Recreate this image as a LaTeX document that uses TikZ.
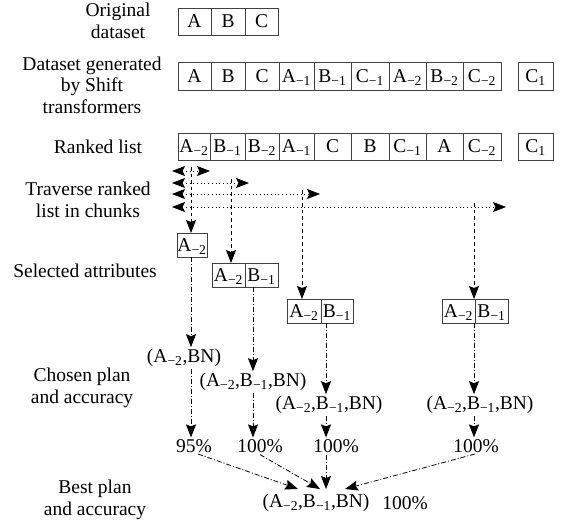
\documentclass[tikz,border=0pt]{standalone}
\usepackage{fontspec}
\setmainfont{Liberation Serif}
\usetikzlibrary{arrows.meta,calc}
\newcommand{\sbt}[1]{\textsubscript{#1}}
\newcommand{\cellbox}[6]{%
  \pgfmathsetmacro{\cbw}{#3-#2}\pgfmathsetmacro{\cbx}{(#2+#3)/2}%
  \pgfmathsetmacro{\cbh}{#5-#4}\pgfmathsetmacro{\cby}{(#4+#5)/2}%
  \node[cell, minimum width=\cbw pt, minimum height=\cbh pt] (#1) at (\cbx,\cby) {#6};}
\begin{document}
\begin{tikzpicture}[x=1pt,y=-1pt,
  every node/.style={font=\fontsize{19.5}{21.5}\selectfont, inner sep=0pt, outer sep=0pt},
  lbl/.style={align=center},
  txt/.style={outer sep=2pt},
  cell/.style={draw=black!75, line width=0.8pt, text height=15pt, text depth=3pt},
  trav/.style={line width=0.8pt, dash pattern=on 1pt off 2.7pt, {Stealth[length=13pt,width=10pt,inset=2.5pt]}-{Stealth[length=13pt,width=10pt,inset=2.5pt]}},
  dsh/.style={line width=0.8pt, dash pattern=on 3.5pt off 3pt, -{Stealth[length=13pt,width=10pt,inset=2pt]}},
  dd/.style={line width=0.8pt, dash pattern=on 5pt off 2pt on 1pt off 2pt, -{Stealth[length=13pt,width=10pt,inset=2pt]}},
]
\useasboundingbox (0,0) rectangle (561,523);

% left labels
\node[lbl] (Lorig) at (118,21) {Original\\dataset};
\node[lbl] (Lgen) at (92,85) {Dataset generated\\by Shift\\transformers};
\node[lbl] (Lrank) at (98,147) {Ranked list};
\node[lbl] (Ltrav) at (88,200) {Traverse ranked\\list in chunks};
\node[lbl] (Lsel) at (85,271) {Selected attributes};
\node[lbl] (Lchos) at (82,388) {Chosen plan\\and accuracy};
\node[lbl] (Lbest) at (95,500) {Best plan\\and accuracy};

% original dataset
\cellbox{o1}{178}{211}{8}{35}{A}
\cellbox{o2}{211}{245}{8}{35}{B}
\cellbox{o3}{245}{278}{8}{35}{C}

% generated dataset
\cellbox{g1}{178}{211}{62}{90}{A}
\cellbox{g2}{211}{245}{62}{90}{B}
\cellbox{g3}{245}{279}{62}{90}{C}
\cellbox{g4}{279}{314}{62}{90}{A\sbt{−1}}
\cellbox{g5}{314}{351}{62}{90}{B\sbt{−1}}
\cellbox{g6}{351}{389}{62}{90}{C\sbt{−1}}
\cellbox{g7}{389}{426}{62}{90}{A\sbt{−2}}
\cellbox{g8}{426}{463}{62}{90}{B\sbt{−2}}
\cellbox{g9}{463}{501}{62}{90}{C\sbt{−2}}
\cellbox{gc}{518}{553}{62}{90}{C\sbt{1}}

% ranked list
\cellbox{r1}{178}{210}{133}{160}{A\sbt{−2}}
\cellbox{r2}{210}{245}{133}{160}{B\sbt{−1}}
\cellbox{r3}{245}{279}{133}{160}{B\sbt{−2}}
\cellbox{r4}{279}{314}{133}{160}{A\sbt{−1}}
\cellbox{r5}{314}{351}{133}{160}{C}
\cellbox{r6}{351}{389}{133}{160}{B}
\cellbox{r7}{389}{426}{133}{160}{C\sbt{−1}}
\cellbox{r8}{426}{463}{133}{160}{A}
\cellbox{r9}{463}{501}{133}{160}{C\sbt{−2}}
\cellbox{rc}{518}{553}{133}{160}{C\sbt{1}}

% traverse arrows
\coordinate (a1) at (172,171); \coordinate (b1) at (210,171);
\coordinate (a2) at (172,183); \coordinate (b2) at (249,183);
\coordinate (a3) at (172,194); \coordinate (b3) at (320,194);
\coordinate (a4) at (172,207); \coordinate (b4) at (506,207);
\draw[trav] (a1) -- (b1);
\draw[trav] (a2) -- (b2);
\draw[trav] (a3) -- (b3);
\draw[trav] (a4) -- (b4);

% selected attributes
\cellbox{s1}{177}{207}{233}{257}{A\sbt{−2}}
\cellbox{s2a}{212}{245}{263}{287}{A\sbt{−2}}
\cellbox{s2b}{245}{278}{263}{287}{B\sbt{−1}}
\cellbox{s3a}{287}{321}{299}{323}{A\sbt{−2}}
\cellbox{s3b}{321}{353}{299}{323}{B\sbt{−1}}
\cellbox{s4a}{442}{475}{299}{323}{A\sbt{−2}}
\cellbox{s4b}{475}{508}{299}{323}{B\sbt{−1}}

% vertical start points
\coordinate (v1) at (191,167);
\coordinate (v2) at (231,179);
\coordinate (v3) at (302,190);
\coordinate (v4) at (474,203);
\draw[dsh] (v1) -- (v1 |- s1.north);
\draw[dsh] (v2) -- (v2 |- s2a.north);
\draw[dsh] (v3) -- (v3 |- s3a.north);
\draw[dsh] (v4) -- (v4 |- s4a.north);

% chosen plans
\node[txt] (p1) at (184,358) {(A\sbt{−2},BN)};
\node[txt] (p2) at (253,382) {(A\sbt{−2},B\sbt{−1},BN)};
\node[txt] (p3) at (329,405) {(A\sbt{−2},B\sbt{−1},BN)};
\node[txt] (p4) at (480,405) {(A\sbt{−2},B\sbt{−1},BN)};

\coordinate (k1) at (191,0);
\coordinate (k2) at (253,0);
\coordinate (k3) at (326,0);
\coordinate (k4) at (474,0);
\draw[dd] (k1 |- s1.south) -- (k1 |- p1.north);
\draw[dd] (k2 |- s2b.south) -- (k2 |- p2.north);
\draw[dd] (k3 |- s3b.south) -- (k3 |- p3.north);
\draw[dd] (k4 |- s4b.south) -- (k4 |- p4.north);

% accuracies
\node[txt] (c1) at (194,446) {95\%};
\node[txt] (c2) at (260,446) {100\%};
\node[txt] (c3) at (336,446) {100\%};
\node[txt] (c4) at (476,446) {100\%};
\draw[dd] (k1 |- p1.south) -- (k1 |- c1.north);
\draw[dd] (k2 |- p2.south) -- (k2 |- c2.north);
\draw[dd] (k3 |- p3.south) -- (k3 |- c3.north);
\draw[dd] (k4 |- p4.south) -- (k4 |- c4.north);

% best plan
\node[txt] (f) at (316,503) {(A\sbt{−2},B\sbt{−1},BN)};
\node[txt] (fa) at (405,503) {100\%};
\coordinate (t1) at (298,489);
\coordinate (t2) at (320,489);
\coordinate (t3) at (326,489);
\coordinate (t4) at (345,489);
\coordinate (u1) at (198,454);
\coordinate (u4) at (475,454);
\draw[dd] (u1) -- (t1);
\draw[dd] (c2.south) -- (t2);
\draw[dd] (k3 |- c3.south) -- (t3);
\draw[dd] (u4) -- (t4);
\end{tikzpicture}
\end{document}
